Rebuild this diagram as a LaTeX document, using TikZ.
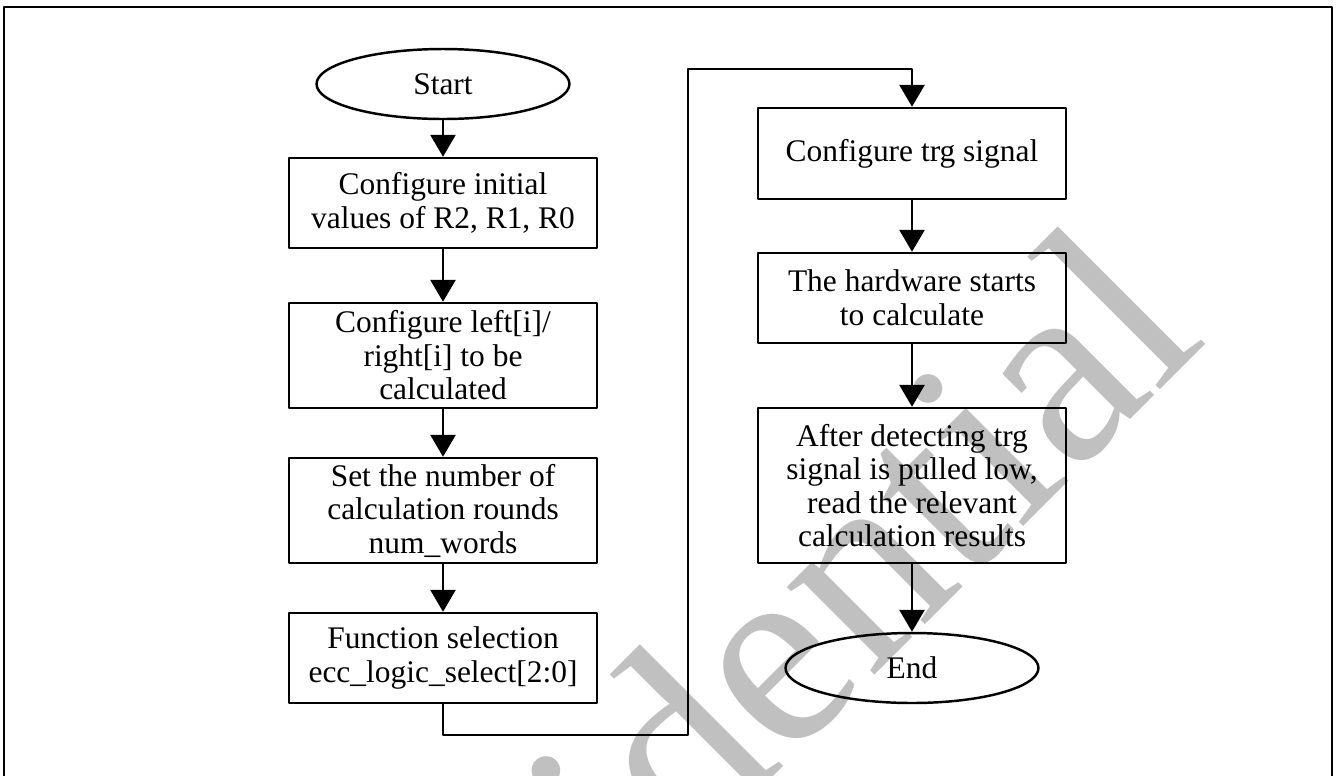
\documentclass[tikz,border=0pt]{standalone}
\usepackage{fontspec}
\setmainfont{Liberation Serif}
\usetikzlibrary{arrows.meta,shapes.geometric}

\definecolor{wmgray}{RGB}{192,192,192}

\begin{document}
\begin{tikzpicture}[x=0.02cm, y=-0.02cm, line cap=round, line join=round,
  stepbox/.style={draw, line width=1.4pt, minimum width=6.16cm, inner sep=0pt,
    align=center, font=\fontsize{17.9}{19.1}\selectfont},
  termbox/.style={draw, ellipse, line width=1.4pt, minimum width=5.06cm,
    minimum height=1.4cm, inner sep=0pt, font=\fontsize{17.9}{19.1}\selectfont},
  flow/.style={line width=1.6pt, -{Triangle[length=0.44cm, width=0.5cm]}}]

% -----------------------
% Page and frame
% -----------------------
\useasboundingbox (0,0) rectangle (1338,775);
\clip (0,0) rectangle (1338,775);

% watermark behind everything
\node[anchor=base west, rotate=45, inner sep=0pt, text=wmgray,
  font=\fontsize{153.7}{160}\selectfont] (wmark) at (255,1295) {Confidential};

\draw[line width=1.6pt] (4,800) -- (4,7) -- (1332,7) -- (1332,800);

% -----------------------
% Left column
% -----------------------
\node[termbox] (start) at (443,84) {Start};
\node[stepbox, minimum height=1.8cm] (initvals) at (443,203)
  {Configure initial\\values of R2, R1, R0};
\node[stepbox, minimum height=2.1cm] (operands) at (443,355.5)
  {Configure left[i]/\\right[i] to be\\calculated};
\node[stepbox, minimum height=2.1cm] (rounds) at (443,510.5)
  {Set the number of\\calculation rounds\\num\_words};
\node[stepbox, minimum height=1.8cm] (select) at (443,658)
  {Function selection\\ecc\_logic\_select[2:0]};

% -----------------------
% Right column
% -----------------------
\node[stepbox, minimum height=1.82cm] (trg) at (912,153.5) {Configure trg signal};
\node[stepbox, minimum height=1.8cm] (hwcalc) at (912,298)
  {The hardware starts\\to calculate};
\node[stepbox, minimum height=3.1cm] (readres) at (912,485.5)
  {After detecting trg\\signal is pulled low,\\read the relevant\\calculation results};
\node[termbox] (end) at (912,668) {End};

% -----------------------
% Connectors
% -----------------------
\draw[flow] (start) -- (initvals);
\draw[flow] (initvals) -- (operands);
\draw[flow] (operands) -- (rounds);
\draw[flow] (rounds) -- (select);

\coordinate (jogbot) at (688,735);
\coordinate (jogtop) at (688,69);
\draw[flow] (select.south) |- (jogbot) -- (jogtop) -| (trg.north);

\draw[flow] (trg) -- (hwcalc);
\draw[flow] (hwcalc) -- (readres);
\draw[flow] (readres) -- (end);

\end{tikzpicture}
\end{document}
